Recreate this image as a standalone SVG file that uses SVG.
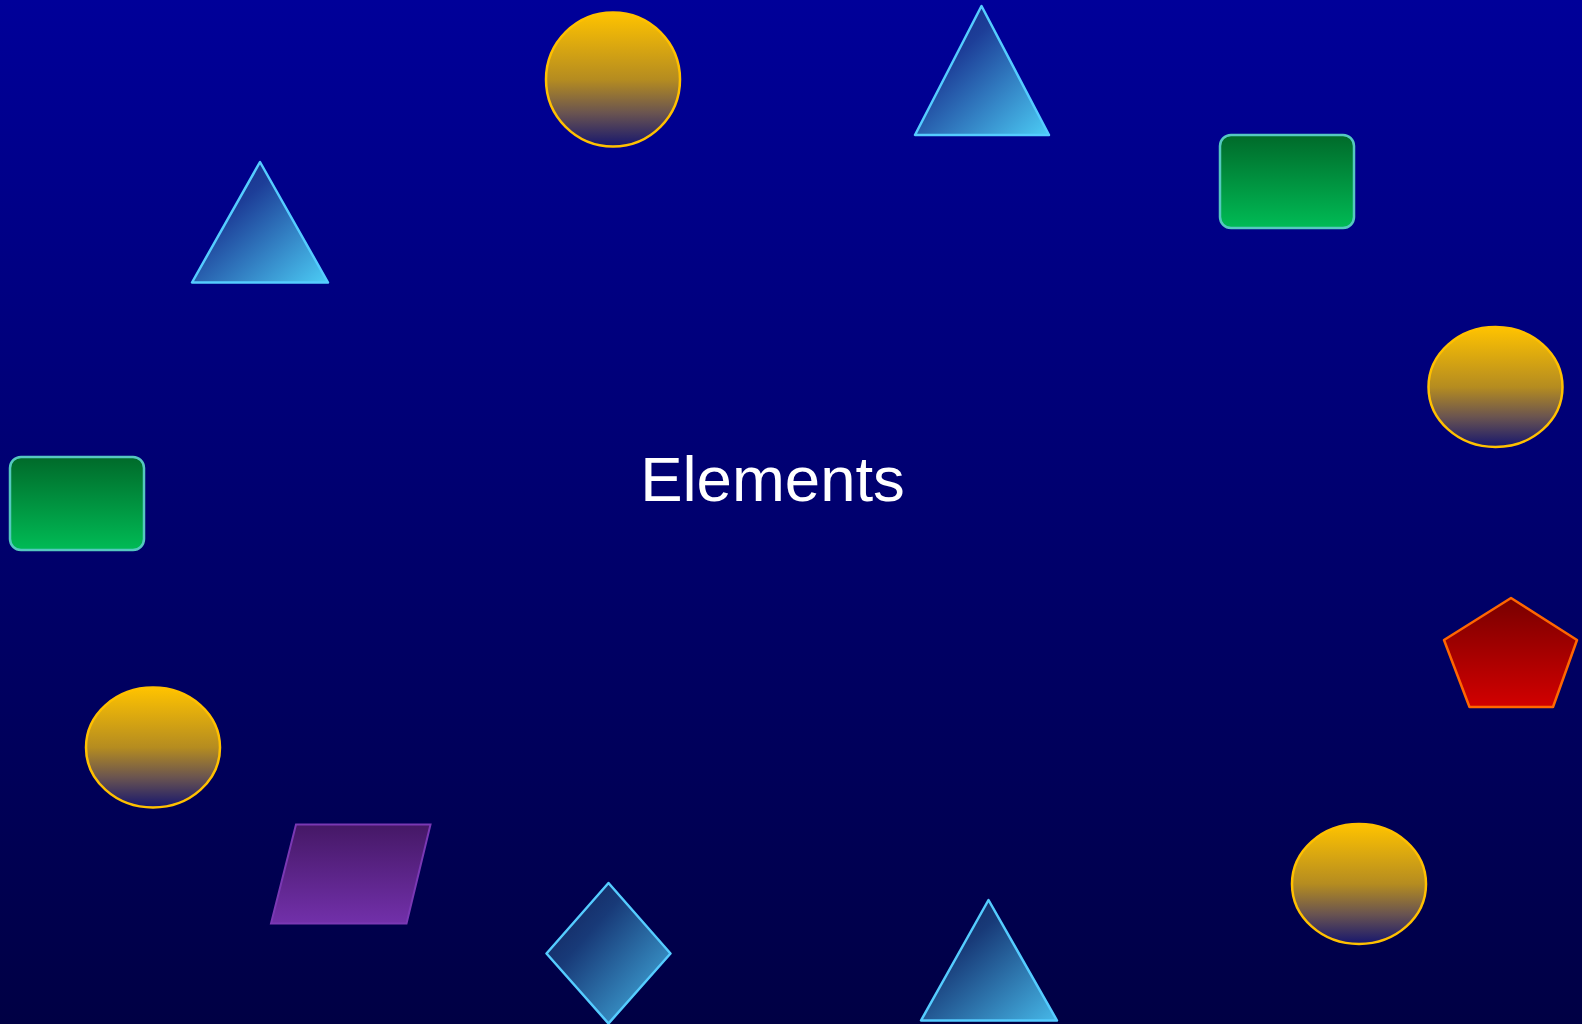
<svg xmlns="http://www.w3.org/2000/svg" width="1582" height="1024" viewBox="0 0 1582 1024">
<defs>
<linearGradient id="bg" x1="0" y1="0" x2="0" y2="1"><stop offset="0" stop-color="#000099"/><stop offset="1" stop-color="#000044"/></linearGradient>
<linearGradient id="gold" x1="0" y1="0" x2="0" y2="1"><stop offset="0" stop-color="#ffc300"/><stop offset="0.5" stop-color="#b58c20"/><stop offset="0.75" stop-color="#6a5450"/><stop offset="1" stop-color="#16166e"/></linearGradient>
<linearGradient id="blue" x1="0" y1="0" x2="1" y2="1"><stop offset="0" stop-color="#13217f"/><stop offset="0.35" stop-color="#1d3e98"/><stop offset="1" stop-color="#4ccdf5"/></linearGradient>
<linearGradient id="blueDark" x1="0" y1="0" x2="1" y2="1"><stop offset="0" stop-color="#101c55"/><stop offset="0.35" stop-color="#183a78"/><stop offset="1" stop-color="#46b8e8"/></linearGradient>
<linearGradient id="green" x1="0" y1="0" x2="0" y2="1"><stop offset="0" stop-color="#006a2a"/><stop offset="1" stop-color="#00bb55"/></linearGradient>
<linearGradient id="red" x1="0" y1="0" x2="0" y2="1"><stop offset="0" stop-color="#780000"/><stop offset="1" stop-color="#d20000"/></linearGradient>
<linearGradient id="purple" x1="0" y1="0" x2="0" y2="1"><stop offset="0" stop-color="#451866"/><stop offset="1" stop-color="#7230aa"/></linearGradient>
</defs>
<style>
.gold{fill:url(#gold);stroke:#ffc000;stroke-width:2.5}
.tri{fill:url(#blue);stroke:#55ccff;stroke-width:2.5;stroke-linejoin:round}
.dark{fill:url(#blueDark)}
.rect{fill:url(#green);stroke:#55c8c0;stroke-width:2.5}
.pent{fill:url(#red);stroke:#ff6600;stroke-width:2.5;stroke-linejoin:round}
.para{fill:url(#purple);stroke:#7a38b4;stroke-width:2}
.label{font-family:"Liberation Sans",Arial,sans-serif;font-size:63.5px;fill:#ffffff}
</style>
<rect x="0" y="0" width="1582" height="1024" fill="url(#bg)"/>
<g id="connectors"/>
<g id="circle-top"><ellipse class="gold" cx="613" cy="79.5" rx="67" ry="67"/></g>
<g id="triangle-top"><polygon class="tri" points="981.5,6 915,135 1049,135"/></g>
<g id="rect-top"><rect class="rect" x="1220" y="135" width="134" height="93" rx="11"/></g>
<g id="triangle-left"><polygon class="tri" points="260,162 192,282.5 328,282.5"/></g>
<g id="ellipse-right"><ellipse class="gold" cx="1495.5" cy="387" rx="67" ry="60"/></g>
<g id="rect-left"><rect class="rect" x="10" y="457" width="134" height="93" rx="11"/></g>
<g id="pentagon"><polygon class="pent" points="1511,598 1577,640 1553,707 1469.5,707 1444,640"/></g>
<g id="ellipse-left"><ellipse class="gold" cx="153" cy="747.5" rx="67" ry="60"/></g>
<g id="ellipse-bottom-right"><ellipse class="gold" cx="1359" cy="884" rx="67" ry="60"/></g>
<g id="parallelogram"><polygon class="para" points="296,824.5 430.5,824.5 406.5,923.5 271,923.5"/></g>
<g id="diamond"><polygon class="tri dark" points="608.5,883 670.5,953.5 608.5,1023.5 546.5,953.5"/></g>
<g id="triangle-bottom"><polygon class="tri dark" points="988.5,900 921,1020.5 1057,1020.5"/></g>
<g id="title"><text class="label" x="772.5" y="501" text-anchor="middle">Elements</text></g>
</svg>
